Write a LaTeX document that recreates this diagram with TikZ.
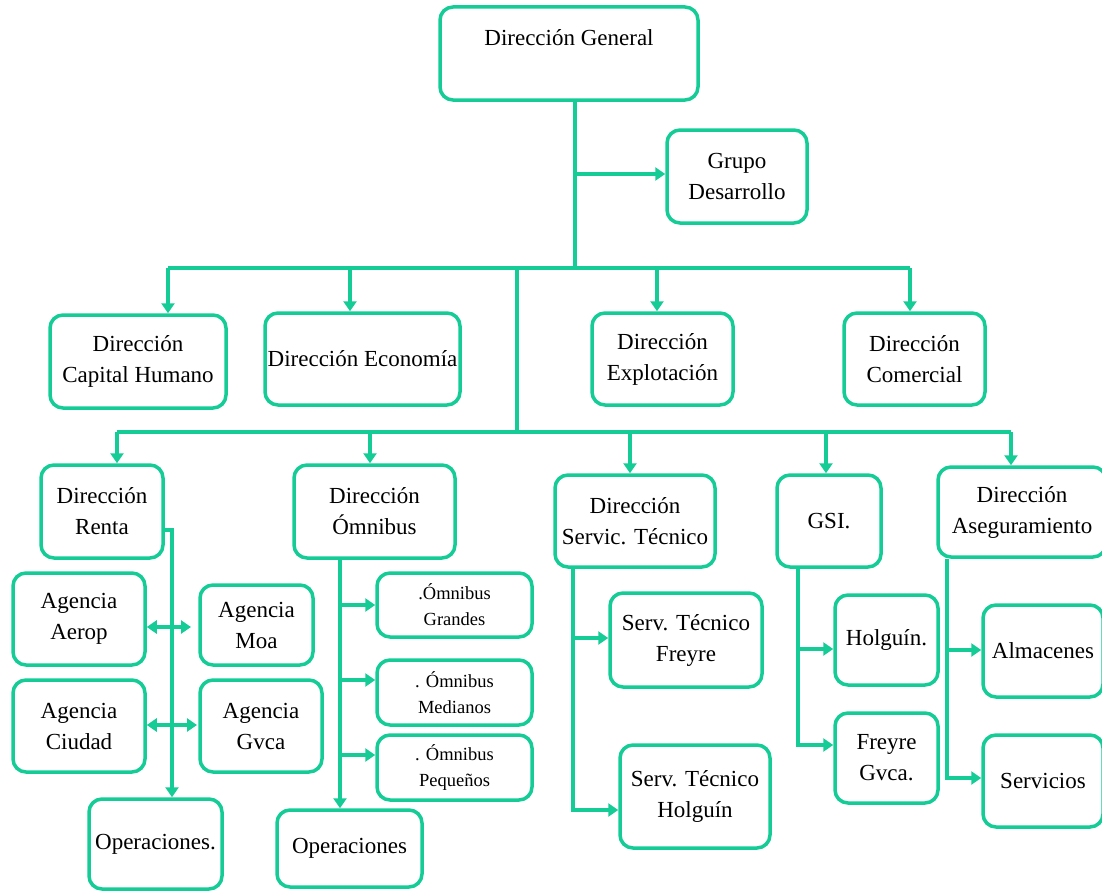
\documentclass[tikz,border=0pt]{standalone}
\usepackage{fontspec}
\setmainfont{Liberation Serif}
\usetikzlibrary{arrows.meta}
\definecolor{vg}{RGB}{22,204,150}
\begin{document}
\begin{tikzpicture}[x=1pt,y=-1pt,
  box/.style={draw=vg, line width=3.5pt, rounded corners=13pt, inner sep=0pt,
    align=center, font=\fontsize{23}{31}\selectfont},
  sbox/.style={box, font=\fontsize{18.5}{26}\selectfont},
  conn/.style={draw=vg, line width=3.5pt},
  arr/.style={conn, -{Triangle[length=10pt,width=13pt]}},
  dbl/.style={conn, {Triangle[length=10pt,width=13pt]}-{Triangle[length=10pt,width=13pt]}}]
\useasboundingbox (0,0) rectangle (1102,891);
% top
\node[box, minimum width=258, minimum height=93] (dg) at (569,53.5) {Dirección General\\\mbox{}};
\node[box, minimum width=140, minimum height=93] (gd) at (737,176.5) {Grupo\\Desarrollo};
% row 2
\node[box, minimum width=176, minimum height=93] (ch) at (138,361.5) {Dirección\\Capital Humano};
\node[box, minimum width=195, minimum height=92] (eco) at (362.5,359) {Dirección Economía};
\node[box, minimum width=141, minimum height=92] (exp) at (662.5,359) {Dirección\\Explotación};
\node[box, minimum width=141, minimum height=92] (com) at (914.5,359) {Dirección\\Comercial};
% row 3
\node[box, minimum width=122, minimum height=93] (renta) at (102,511.5) {Dirección\\Renta};
\node[box, minimum width=161, minimum height=93] (omn) at (374.5,511.5) {Dirección\\Ómnibus};
\node[box, minimum width=160, minimum height=92] (stec) at (635,521) {Dirección\\Servic. Técnico};
\node[box, minimum width=104, minimum height=92] (gsi) at (829,521) {GSI.};
\node[box, minimum width=168, minimum height=90] (aseg) at (1022,512) {Dirección\\Aseguramiento};
% renta group
\node[box, minimum width=132, minimum height=92] (aerop) at (79,619) {Agencia\\Aerop};
\node[box, minimum width=113, minimum height=80] (moa) at (256.5,625) {Agencia\\Moa};
\node[box, minimum width=132, minimum height=92] (ciudad) at (79,726) {Agencia\\Ciudad};
\node[box, minimum width=122, minimum height=92] (gvca) at (261,726) {Agencia\\Gvca};
\node[box, minimum width=133, minimum height=90] (ops1) at (155.5,844) {Operaciones.};
% omnibus group
\node[sbox, minimum width=155, minimum height=64] (og) at (454.5,605) {.Ómnibus\\Grandes};
\node[sbox, minimum width=155, minimum height=65] (om) at (454.5,692.5) {. Ómnibus\\Medianos};
\node[sbox, minimum width=155, minimum height=65] (op) at (454.5,767.5) {. Ómnibus\\Pequeños};
\node[box, minimum width=145, minimum height=77] (ops2) at (349.5,848.5) {Operaciones};
% servicio tecnico group
\node[box, minimum width=152, minimum height=94] (stf) at (686,640) {Serv. Técnico\\Freyre};
\node[box, minimum width=150, minimum height=103] (sth) at (695,796.5) {Serv. Técnico\\Holguín};
% gsi group
\node[box, minimum width=103, minimum height=90] (hol) at (886.5,640) {Holguín.};
\node[box, minimum width=103, minimum height=90] (fg) at (886.5,758) {Freyre\\Gvca.};
% aseguramiento group
\node[box, minimum width=120, minimum height=92] (alm) at (1043,651) {Almacenes};
\node[box, minimum width=120, minimum height=92] (serv) at (1043,781) {Servicios};
% coordinates
\coordinate (t1) at (575,268);
\coordinate (t2) at (517,432);
\coordinate (gdj) at (575,174);
\coordinate (l1a) at (168,268);
\coordinate (l1b) at (350,268);
\coordinate (l1c) at (657,268);
\coordinate (l1d) at (910,268);
\coordinate (l2a) at (117,432);
\coordinate (l2b) at (370,432);
\coordinate (l2c) at (630,432);
\coordinate (l2d) at (826,432);
\coordinate (l2e) at (1011,432);
% top connectors
\draw[conn] (dg.south -| t1) -- (t1);
\draw[arr] (gdj) -- (gd.west |- gdj);
\draw[conn] (l1a) -- (l1d);
\draw[conn] (t1 -| t2) -- (t2);
\draw[arr] (l1a) -- (l1a |- ch.north);
\draw[arr] (l1b) -- (l1b |- eco.north);
\draw[arr] (l1c) -- (l1c |- exp.north);
\draw[arr] (l1d) -- (l1d |- com.north);
\draw[conn] (l2a) -- (l2e);
\draw[arr] (l2a) -- (l2a |- renta.north);
\draw[arr] (l2b) -- (l2b |- omn.north);
\draw[arr] (l2c) -- (l2c |- stec.north);
\draw[arr] (l2d) -- (l2d |- gsi.north);
\draw[arr] (l2e) -- (l2e |- aseg.north);
% renta
\coordinate (rt) at (172,530);
\draw[arr] (renta.east |- rt) -- (rt) -- (rt |- ops1.north);
\coordinate (a1) at (191,627);
\coordinate (a2) at (197,725);
\draw[dbl] (aerop.east |- a1) -- (a1);
\draw[dbl] (ciudad.east |- a2) -- (a2);
% omnibus
\coordinate (ot) at (340,558);
\coordinate (ob1) at (340,605);
\coordinate (ob2) at (340,680);
\coordinate (ob3) at (340,755);
\draw[arr] (ot |- omn.south) -- (ot |- ops2.north);
\draw[arr] (ob1) -- (og.west |- ob1);
\draw[arr] (ob2) -- (om.west |- ob2);
\draw[arr] (ob3) -- (op.west |- ob3);
% servicio tecnico
\coordinate (sj1) at (573,638);
\coordinate (sj2) at (573,810);
\draw[arr] (sj1 |- stec.south) -- (sj2) -- (sth.west |- sj2);
\draw[arr] (sj1) -- (stf.west |- sj1);
% gsi
\coordinate (gj1) at (798,649);
\coordinate (gj2) at (798,745);
\draw[arr] (gj1 |- gsi.south) -- (gj2) -- (fg.west |- gj2);
\draw[arr] (gj1) -- (hol.west |- gj1);
% aseguramiento
\coordinate (aj1) at (947,650);
\coordinate (aj2) at (947,778);
\draw[arr] (aj1 |- aseg.south) -- (aj2) -- (serv.west |- aj2);
\draw[arr] (aj1) -- (alm.west |- aj1);
\end{tikzpicture}
\end{document}
